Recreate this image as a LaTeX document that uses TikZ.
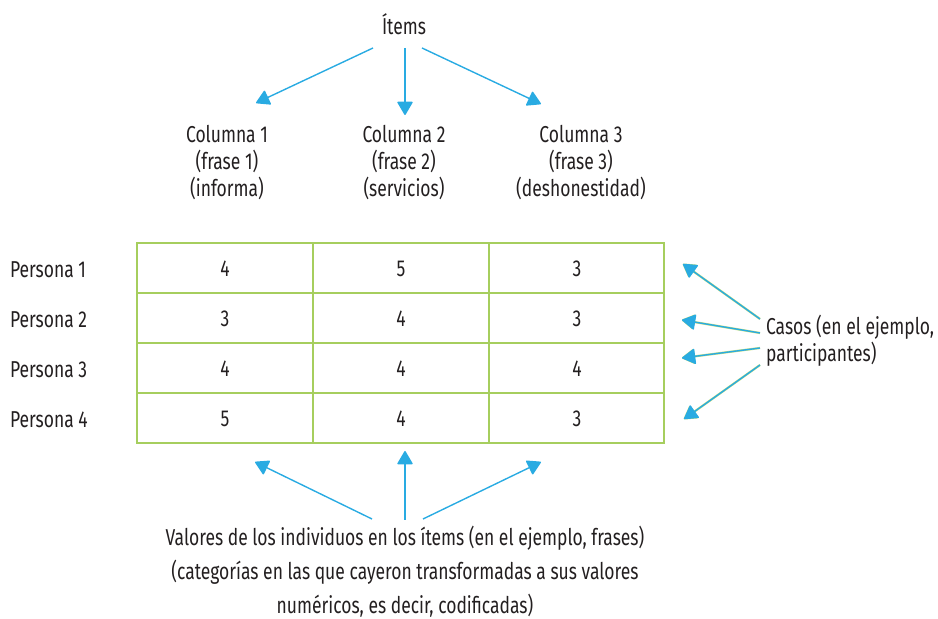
\documentclass[tikz,border=0pt]{standalone}
\usepackage{fontspec}
\setmainfont{Fira Sans}[FakeStretch=0.76]
\usetikzlibrary{arrows.meta}

\definecolor{azul}{RGB}{41,171,226}
\definecolor{verde}{RGB}{166,206,94}
\definecolor{verdeclaro}{RGB}{200,222,120}
\definecolor{tinta}{RGB}{35,31,32}

\tikzset{
  flecha/.style={azul, line width=0.7pt, -{Triangle[length=7pt,width=8pt,round]}},
  sombra/.style={verdeclaro, line width=1.1pt, -{Triangle[length=7pt,width=8pt,round]}, shift={(1.3,1.3)}},
  dato/.style={text=tinta, font=\fontsize{11.5}{13.5}\selectfont},
}

\begin{document}
\begin{tikzpicture}[x=0.5pt, y=-0.5pt, every node/.style={dato}]
\useasboundingbox (0,0) rectangle (938,619);

% the items on top
\node (items) at (404,24) {Ítems};
\node[align=center] (col1) at (227,163) {Columna 1\\(frase 1)\\(informa)};
\node[align=center] (col2) at (404,163) {Columna 2\\(frase 2)\\(servicios)};
\node[align=center] (col3) at (581,163) {Columna 3\\(frase 3)\\(deshonestidad)};

\coordinate (i1) at (373,48);
\coordinate (i2) at (405,48);
\coordinate (i3) at (422,48);
\coordinate (t1) at (256,103);
\coordinate (t2) at (405,115);
\coordinate (t3) at (541,104);
\draw [flecha] (i1) -- (t1);
\draw [flecha] (i2) -- (t2);
\draw [flecha] (i3) -- (t3);

% the table
\draw [verde, line width=1.3pt] (137,243) rectangle (664,443);
\foreach \y in {293,343,393}
  \draw [verde, line width=1.3pt] (137,\y) -- (664,\y);
\foreach \x in {313,489}
  \draw [verde, line width=1.3pt] (\x,243) -- (\x,443);

\foreach \a/\b/\c [count=\i] in {4/5/3, 3/4/3, 4/4/4, 5/4/3} {
  \node[anchor=west] (p\i) at (3,220+50*\i) {Persona \i};
  \node (v\i a) at (225,219+50*\i) {\a};
  \node (v\i b) at (401,219+50*\i) {\b};
  \node (v\i c) at (577,219+50*\i) {\c};
}

% the cases
\node[anchor=west, align=left] (casos) at (759,341) {Casos (en el ejemplo,\\participantes)};

\coordinate (k1) at (760,319);
\coordinate (k2) at (760,333);
\coordinate (k3) at (760,348);
\coordinate (k4) at (760,365);
\coordinate (f1) at (683,264);
\coordinate (f2) at (682,320);
\coordinate (f3) at (682,358);
\coordinate (f4) at (684,419);
\foreach \n in {1,...,4} {
  \draw [sombra] (k\n) -- (f\n);
  \draw [flecha] (k\n) -- (f\n);
}

% the values
\node[align=center, font=\fontsize{11.5}{17}\selectfont] (valores) at (405,572)
  {Valores de los individuos en los ítems (en el ejemplo, frases)\\
   (categorías en las que cayeron transformadas a sus valores\\
   numéricos, es decir, codificadas)};

\coordinate (b1) at (372,519);
\coordinate (b2) at (405,520);
\coordinate (b3) at (423,519);
\coordinate (u1) at (255,462);
\coordinate (u2) at (405,451);
\coordinate (u3) at (541,462);
\draw [flecha] (b1) -- (u1);
\draw [flecha] (b2) -- (u2);
\draw [flecha] (b3) -- (u3);

\end{tikzpicture}
\end{document}
